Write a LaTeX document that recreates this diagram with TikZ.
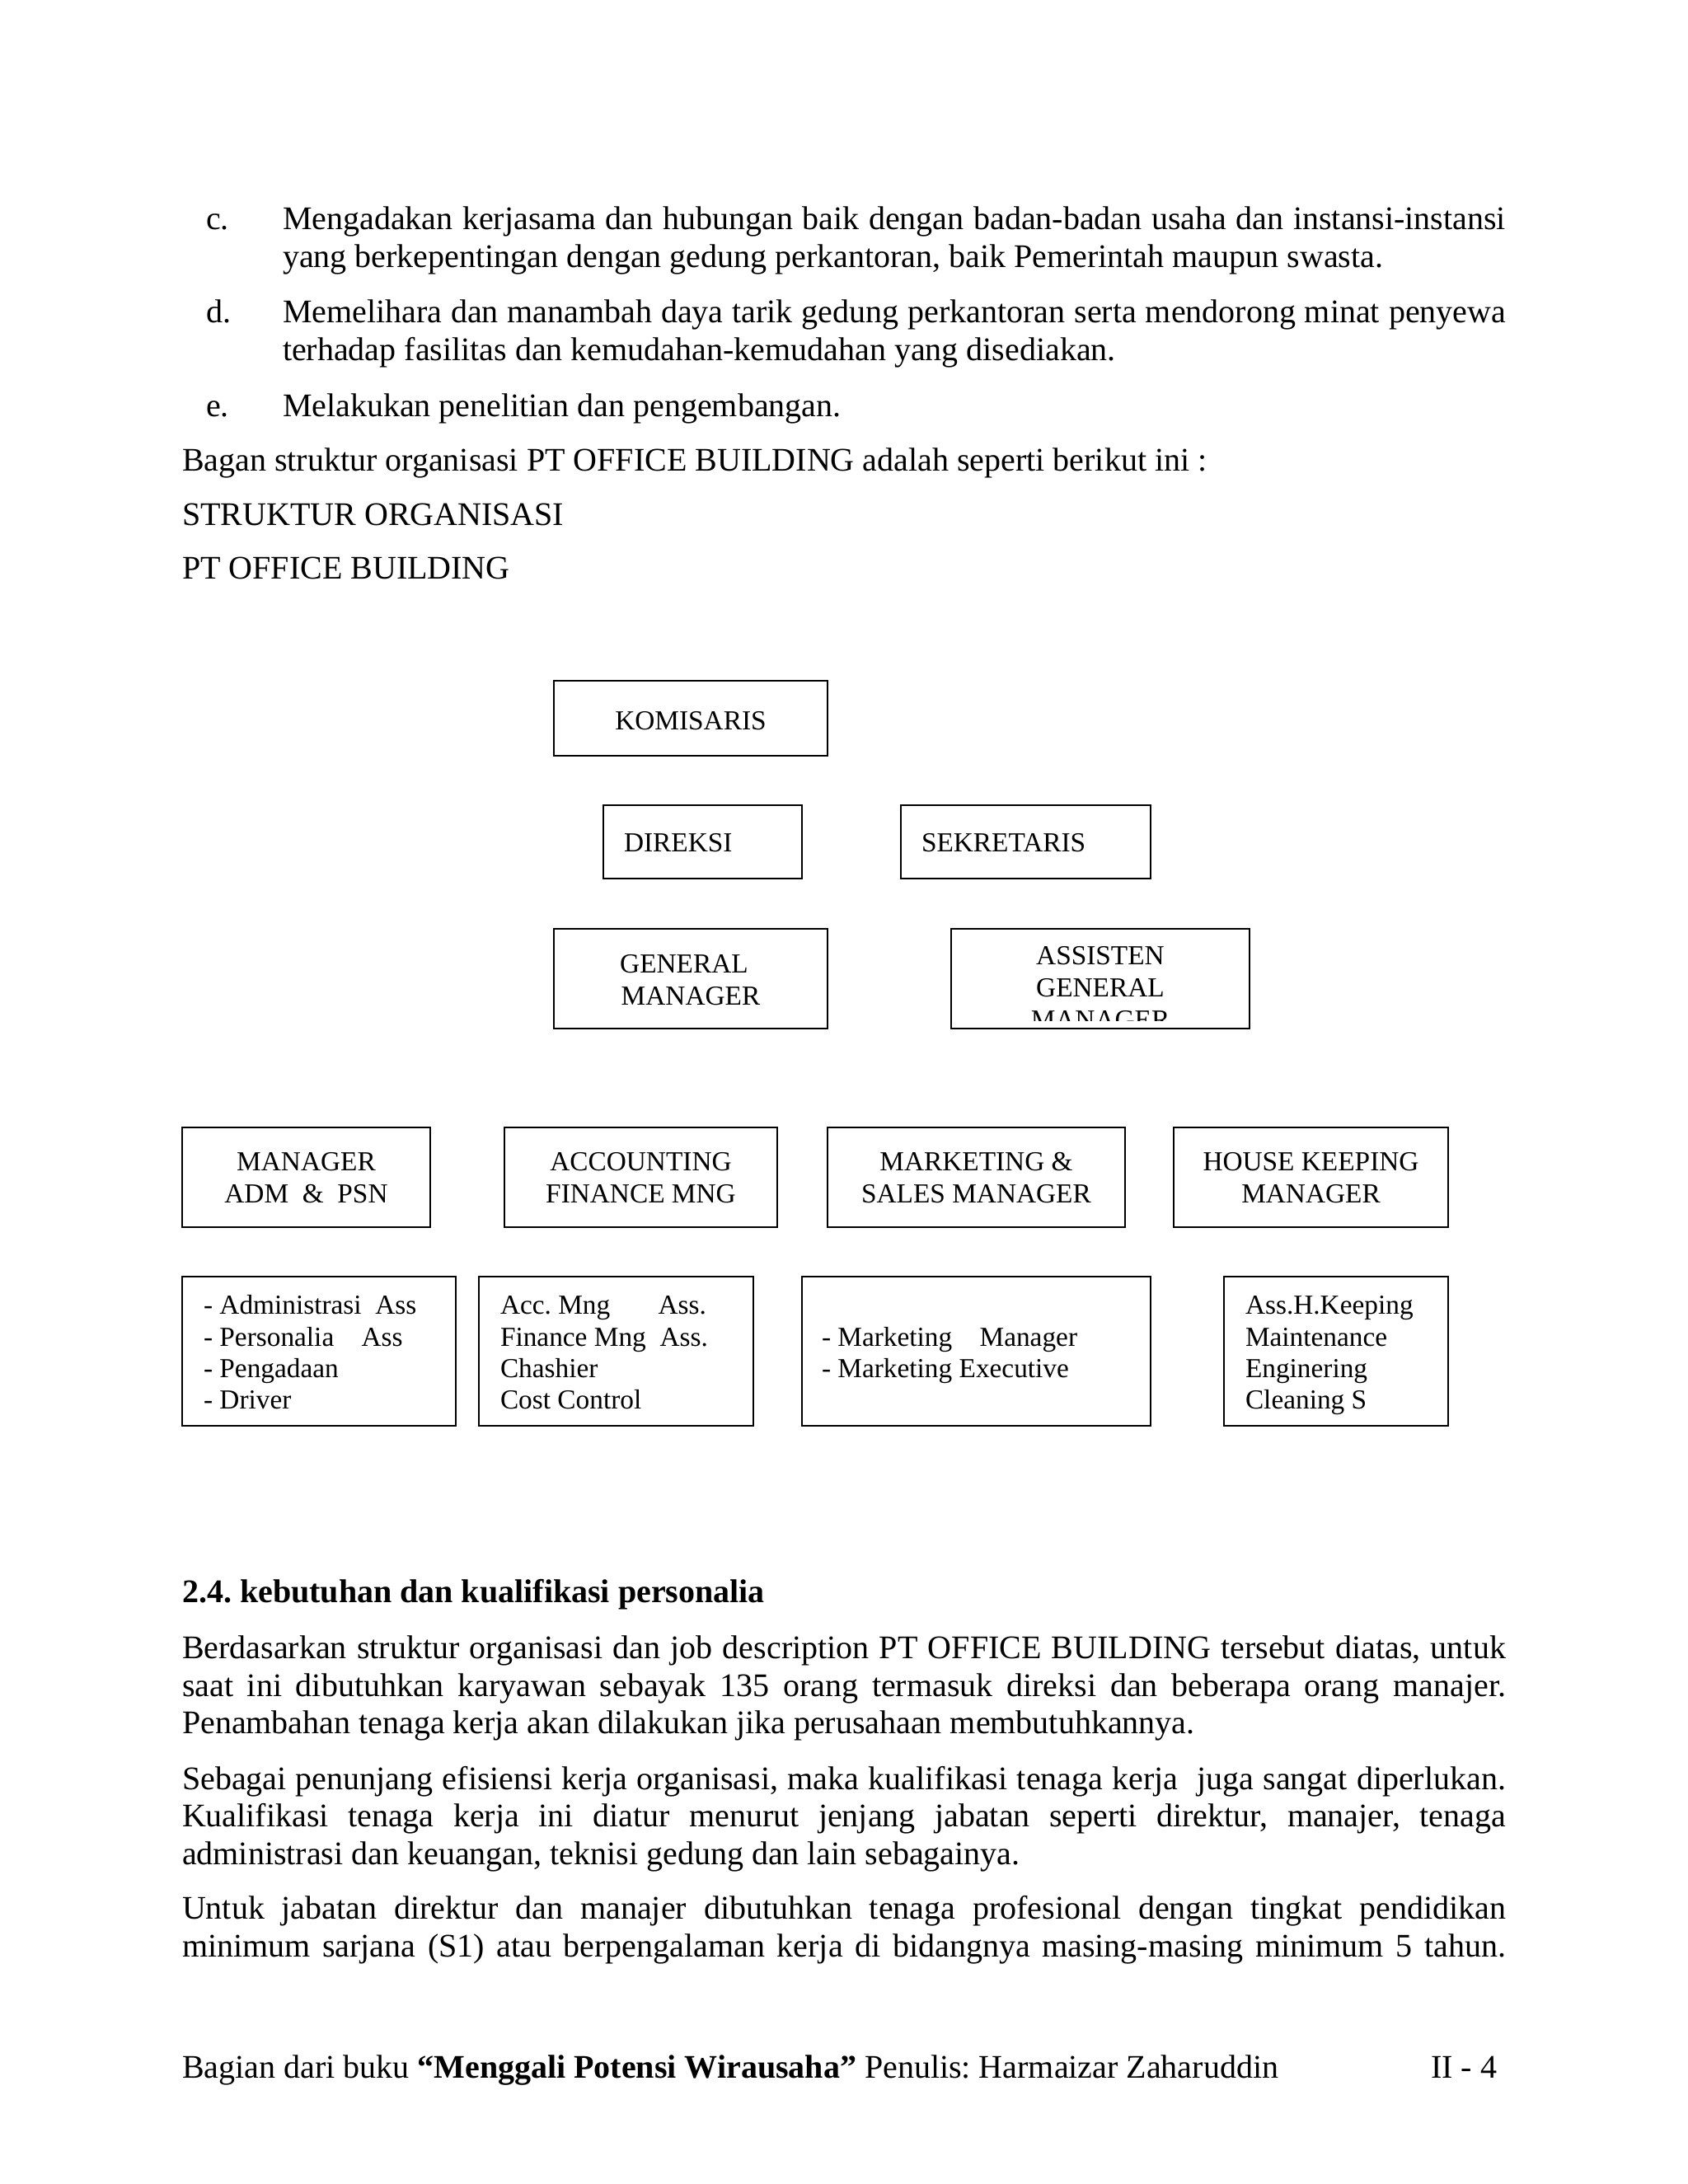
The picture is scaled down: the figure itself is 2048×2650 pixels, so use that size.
\documentclass[tikz,border=0pt]{standalone}
\usepackage{fontspec}
\setmainfont{Liberation Serif}
\frenchspacing
\newcommand\orgbox[5]{\node[obox, minimum width={(#4-#2)*0.3pt}, minimum height={(#5-#3)*0.3pt}] (#1) at ({(#2+#4)/2},{(#3+#5)/2}) {};}
\newcommand\jline[2]{\makebox[#1][s]{#2}}
\begin{document}
\begin{tikzpicture}[x=0.3pt,y=-0.3pt,
  bt/.style={anchor=base west, inner sep=0pt, outer sep=0pt, font=\fontsize{12}{13.8}\selectfont},
  obox/.style={draw, line width=0.8pt, inner sep=0pt, outer sep=0pt},
  bxc/.style={anchor=base, inner sep=0pt, outer sep=0pt, font=\fontsize{10}{11.5}\selectfont},
  bxl/.style={anchor=base west, inner sep=0pt, outer sep=0pt, font=\fontsize{10}{11.5}\selectfont},
]
\useasboundingbox[fill=white] (0,0) rectangle (2048,2650);

% ---- text above the chart
\node[bt] (lc) at (250,278) {c.};
\node[bt] (c1) at (343,278) {\jline{445.2pt}{Mengadakan kerjasama dan hubungan baik dengan badan-badan usaha dan instansi-instansi}};
\node[bt] (c2) at (343,324) {yang berkepentingan dengan gedung perkantoran, baik Pemerintah maupun swasta.};
\node[bt] (ld) at (250,391) {d.};
\node[bt] (d1) at (343,391) {\jline{445.2pt}{Memelihara dan manambah daya tarik gedung perkantoran serta mendorong minat penyewa}};
\node[bt] (d2) at (343,437) {terhadap fasilitas dan kemudahan-kemudahan yang disediakan.};
\node[bt] (le) at (250,505) {e.};
\node[bt] (e1) at (343,505) {Melakukan penelitian dan pengembangan.};
\node[bt] (bagan) at (221,571) {Bagan struktur organisasi PT OFFICE BUILDING adalah seperti berikut ini :};
\node[bt] (struk) at (221,637) {STRUKTUR ORGANISASI};
\node[bt] (ptob) at (221,702) {PT OFFICE BUILDING};

% ---- chart boxes
\orgbox{komis}{672}{826}{1004}{917}
\orgbox{direk}{732}{977}{973}{1066}
\orgbox{sekre}{1093}{977}{1396}{1066}
\orgbox{gm}{672}{1127}{1004}{1248}
\orgbox{agm}{1154}{1127}{1516}{1248}
\orgbox{madm}{221}{1368}{522}{1489}
\orgbox{macc}{612}{1368}{943}{1489}
\orgbox{mmkt}{1004}{1368}{1365}{1489}
\orgbox{mhk}{1424}{1368}{1757}{1489}
\orgbox{sadm}{221}{1549}{553}{1730}
\orgbox{sacc}{581}{1549}{914}{1730}
\orgbox{smkt}{973}{1549}{1396}{1730}
\orgbox{shk}{1485}{1549}{1757}{1730}

% ---- chart texts
\node[bxc] (komis-t) at (838,885) {KOMISARIS};
\node[bxl] (direk-t) at (757,1033) {DIREKSI};
\node[bxl] (sekre-t) at (1118,1033) {SEKRETARIS};
\node[bxc] (gm-t1) at (830,1180) {GENERAL};
\node[bxc] (gm-t2) at (838,1219) {MANAGER};
\begin{scope}
  \clip (1154,1127) rectangle (1516,1238);
  \node[bxc] (agm-t1) at (1335,1170) {ASSISTEN};
  \node[bxc] (agm-t2) at (1335,1209) {GENERAL};
  \node[bxc] (agm-t3) at (1335,1248) {MANAGER};
\end{scope}

\node[bxc] (madm-t1) at (371.5,1420) {MANAGER};
\node[bxc] (madm-t2) at (371.5,1459) {ADM\ \ \&\ \ PSN};
\node[bxc] (macc-t1) at (777.5,1420) {ACCOUNTING};
\node[bxc] (macc-t2) at (777.5,1459) {FINANCE MNG};
\node[bxc] (mmkt-t1) at (1184.5,1420) {MARKETING \&};
\node[bxc] (mmkt-t2) at (1184.5,1459) {SALES MANAGER};
\node[bxc] (mhk-t1) at (1590.5,1420) {HOUSE KEEPING};
\node[bxc] (mhk-t2) at (1590.5,1459) {MANAGER};

\node[bxl] (sadm-t1) at (247,1594) {- Administrasi\ \ Ass};
\node[bxl] (sadm-t2) at (247,1633) {- Personalia\ \ \ \ Ass};
\node[bxl] (sadm-t3) at (247,1671) {- Pengadaan};
\node[bxl] (sadm-t4) at (247,1709) {- Driver};

\node[bxl] (sacc-t1) at (607,1594) {Acc. Mng\ \ \ \ \ \ \ Ass.};
\node[bxl] (sacc-t2) at (607,1633) {Finance Mng\ \ Ass.};
\node[bxl] (sacc-t3) at (607,1671) {Chashier};
\node[bxl] (sacc-t4) at (607,1709) {Cost Control};

\node[bxl] (smkt-t1) at (997,1633) {- Marketing\ \ \ \ Manager};
\node[bxl] (smkt-t2) at (997,1671) {- Marketing Executive};

\node[bxl] (shk-t1) at (1511,1594) {Ass.H.Keeping};
\node[bxl] (shk-t2) at (1511,1633) {Maintenance};
\node[bxl] (shk-t3) at (1511,1671) {Enginering};
\node[bxl] (shk-t4) at (1511,1709) {Cleaning S};

% ---- text below the chart
\node[bt] (head) at (221,1944) {\bfseries 2.4. kebutuhan dan kualifikasi personalia};
\node[bt] (p1a) at (221,2012) {\jline{481.8pt}{Berdasarkan struktur organisasi dan job description PT OFFICE BUILDING tersebut diatas, untuk}};
\node[bt] (p1b) at (221,2058) {\jline{481.8pt}{saat ini dibutuhkan karyawan sebayak 135 orang termasuk direksi dan beberapa orang manajer.}};
\node[bt] (p1c) at (221,2103) {Penambahan tenaga kerja akan dilakukan jika perusahaan membutuhkannya.};
\node[bt] (p2a) at (221,2171) {\jline{481.8pt}{Sebagai penunjang efisiensi kerja organisasi, maka kualifikasi tenaga kerja\ \ juga sangat diperlukan.}};
\node[bt] (p2b) at (221,2216) {\jline{481.8pt}{Kualifikasi tenaga kerja ini diatur menurut jenjang jabatan seperti direktur, manajer, tenaga}};
\node[bt] (p2c) at (221,2262) {administrasi dan keuangan, teknisi gedung dan lain sebagainya.};
\node[bt] (p3a) at (221,2328) {\jline{481.8pt}{Untuk jabatan direktur dan manajer dibutuhkan tenaga profesional dengan tingkat pendidikan}};
\node[bt] (p3b) at (221,2374) {\jline{481.8pt}{minimum sarjana (S1) atau berpengalaman kerja di bidangnya masing-masing minimum 5 tahun.}};

% ---- footer
\node[bt] (foot) at (221,2521) {Bagian dari buku \textbf{“Menggali Potensi Wirausaha”} Penulis: Harmaizar Zaharuddin};
\node[bt, anchor=base east] (pgno) at (1816,2521) {II - 4};
\end{tikzpicture}
\end{document}
